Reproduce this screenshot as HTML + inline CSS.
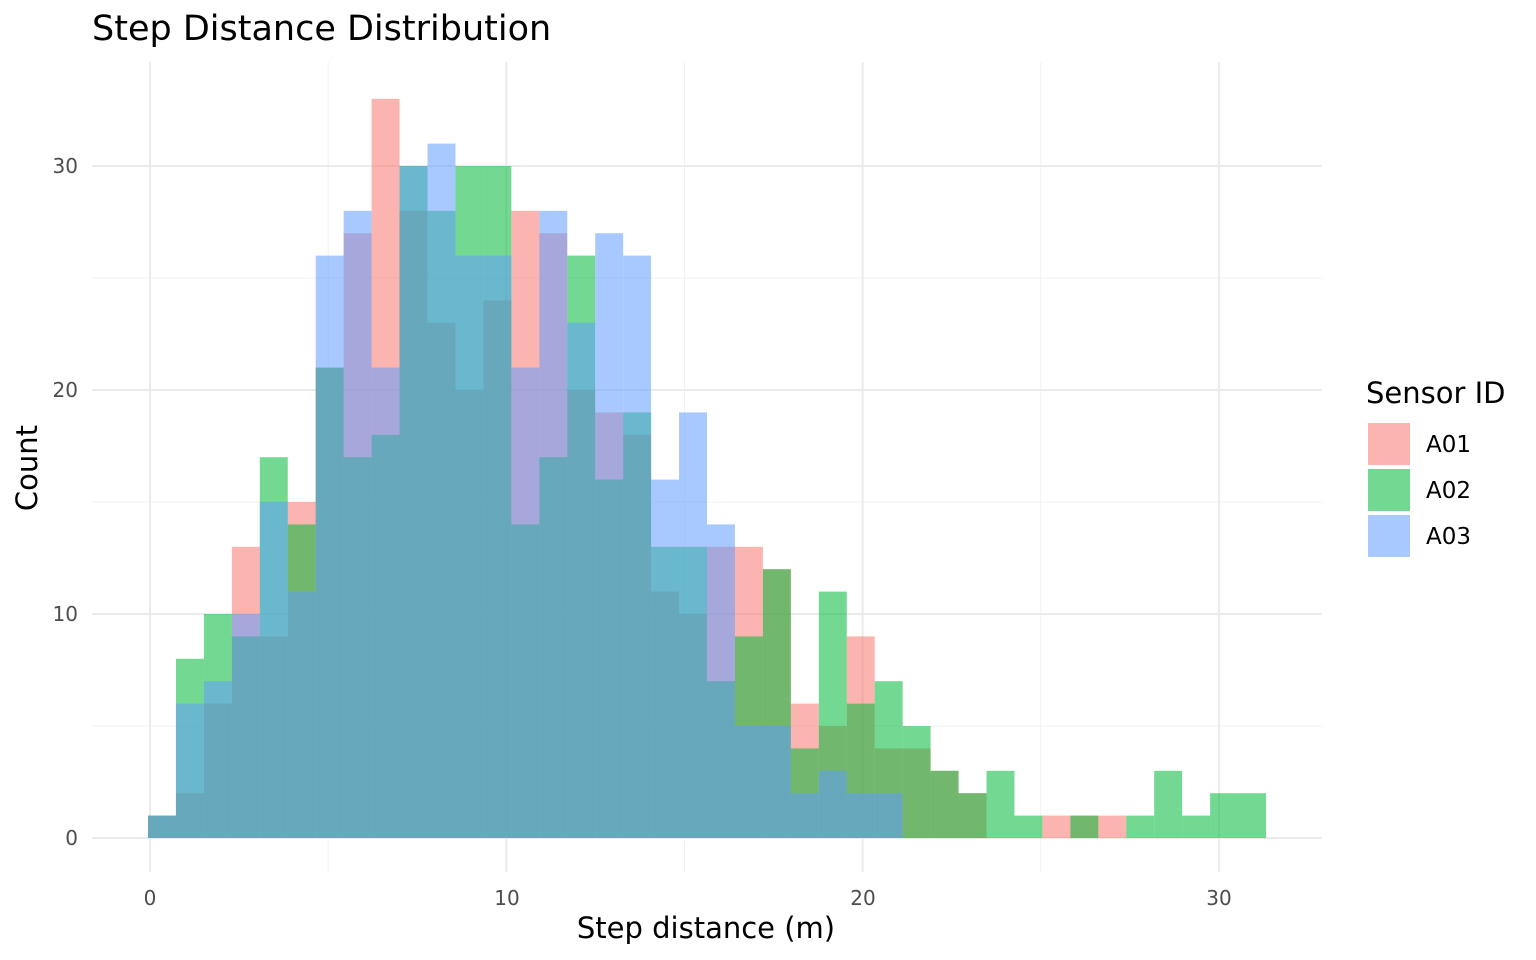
<!DOCTYPE html>
<html><head><meta charset="utf-8"><style>
html,body{margin:0;padding:0;background:#fff;}
svg{display:block;font-family:"DejaVu Sans","Liberation Sans",sans-serif;}
</style></head><body>
<svg id="s" width="1536" height="960" viewBox="0 0 1536 960" xmlns="http://www.w3.org/2000/svg">
<rect width="1536" height="960" fill="#fff"/>
<g id="grid"></g>
<g id="bars"></g>
<text x="92" y="40" font-size="35" fill="#000">Step Distance Distribution</text>
<g font-size="20" fill="#4d4d4d" text-anchor="end">
<text x="78" y="845">0</text><text x="78" y="621">10</text><text x="78" y="397">20</text><text x="78" y="173">30</text>
</g>
<g font-size="20" fill="#4d4d4d" text-anchor="middle">
<text x="150" y="905">0</text><text x="507" y="905">10</text><text x="863" y="905">20</text><text x="1219" y="905">30</text>
</g>
<text x="706" y="938" font-size="29" text-anchor="middle" fill="#000">Step distance (m)</text>
<text transform="translate(37,468) rotate(-90)" font-size="29" text-anchor="middle" fill="#000">Count</text>
<text x="1366" y="403" font-size="29" fill="#000">Sensor ID</text>
<rect x="1368" y="423" width="42" height="42" fill="#F8766D" fill-opacity="0.55"/>
<rect x="1368" y="469" width="42" height="42" fill="#00BA38" fill-opacity="0.55"/>
<rect x="1368" y="515" width="42" height="42" fill="#619CFF" fill-opacity="0.55"/>
<g font-size="23" fill="#000">
<text x="1426" y="452">A01</text><text x="1426" y="498">A02</text><text x="1426" y="544">A03</text>
</g>
</svg>
<script>
var NS="http://www.w3.org/2000/svg";
function el(p,t,a){var e=document.createElementNS(NS,t);for(var k in a)e.setAttribute(k,a[k]);p.appendChild(e);return e;}
var g=document.getElementById("grid");
var y0=838,py=22.4,x0=150,px=35.63;
[5,15,25].forEach(function(v){el(g,"line",{x1:92,x2:1322,y1:y0-v*py,y2:y0-v*py,stroke:"#f2f2f2","stroke-width":1});
 el(g,"line",{y1:62,y2:872,x1:x0+v*px,x2:x0+v*px,stroke:"#f2f2f2","stroke-width":1});});
[0,10,20,30].forEach(function(v){el(g,"line",{x1:92,x2:1322,y1:y0-v*py,y2:y0-v*py,stroke:"#ebebeb","stroke-width":2});
 el(g,"line",{y1:62,y2:872,x1:x0+v*px,x2:x0+v*px,stroke:"#ebebeb","stroke-width":2});});
var A01=[1,2,6,13,9,15,21,27,33,28,23,20,24,28,27,20,19,18,11,10,13,13,12,6,5,9,4,4,3,2,0,0,1,1,1,0,0,0,0,0];
var A02=[1,8,10,9,17,14,21,17,18,30,28,30,30,14,17,26,16,19,13,13,7,9,12,4,11,6,7,5,3,2,3,1,0,1,0,1,3,1,2,2];
var A03=[1,6,7,10,15,11,26,28,21,30,31,26,26,21,28,23,27,26,16,19,14,5,5,2,3,2,2,0,0,0,0,0,0,0,0,0,0,0,0,0];
var b=document.getElementById("bars"),bw=(1266-148)/40;
[[A01,"#F8766D"],[A02,"#00BA38"],[A03,"#619CFF"]].forEach(function(s){
 s[0].forEach(function(c,i){if(!c)return;var xl=148+i*bw;
  el(b,"rect",{x:xl.toFixed(2),y:(y0-c*py).toFixed(2),width:bw.toFixed(2),height:(c*py).toFixed(2),fill:s[1],"fill-opacity":0.55});});
});
</script>
</body></html>
